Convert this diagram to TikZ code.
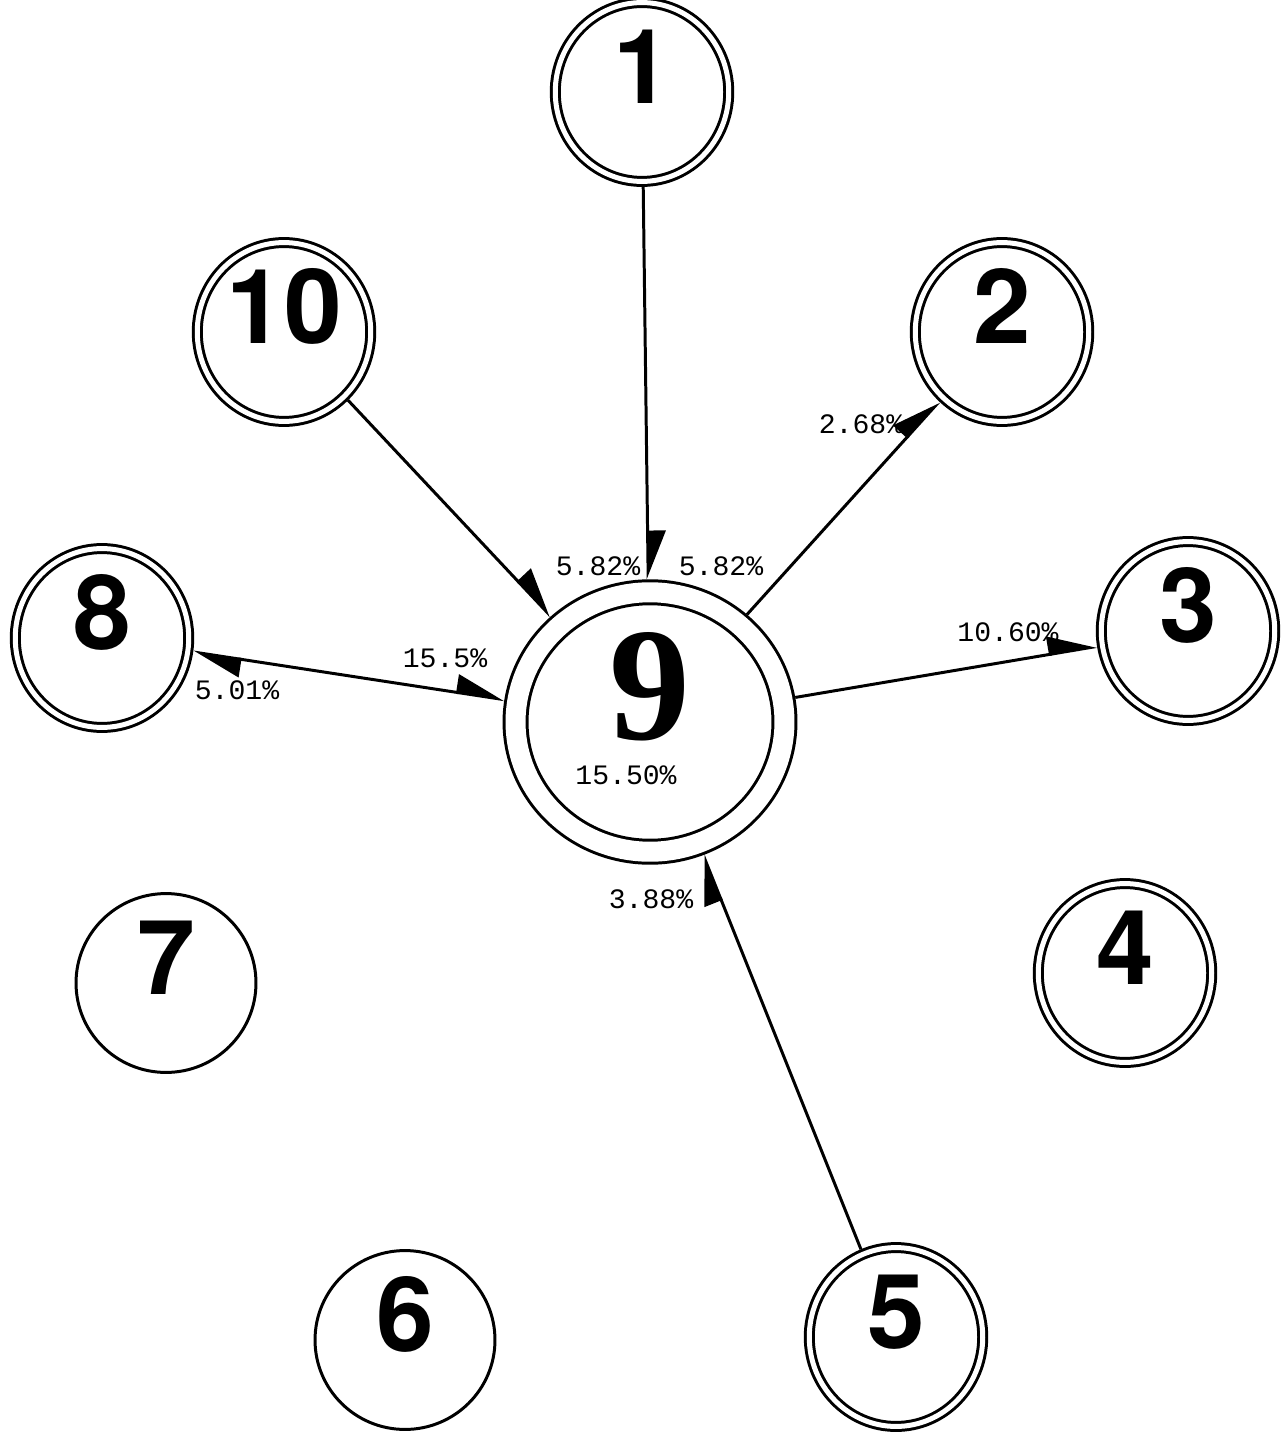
\documentclass[tikz,border=0pt]{standalone}
\usepackage{fontspec}
\usepackage{tikz}
\usetikzlibrary{arrows.meta, shapes.geometric}
\newfontfamily\numfont{TeX Gyre Heros}
\newfontfamily\ninefont{Liberation Serif}
\newfontfamily\pctfont{Liberation Mono}

\begin{document}
\begin{tikzpicture}[x=0.02cm, y=-0.02cm,
  >={Triangle[harpoon,length=0.9cm,width=0.72cm]},
  ring/.style={ellipse,draw,line width=1.7pt,inner sep=0pt,outer sep=0.85pt,
               minimum width=3.6cm,minimum height=3.36cm,
               font=\numfont\bfseries\fontsize{59}{59}\selectfont,
               text height=1.49cm,text depth=1.04cm},
  dring/.style={ring,double,double distance=0.1cm,outer sep=0.11cm,
                minimum width=3.47cm,minimum height=3.15cm},
  hub/.style={dring,double distance=0.4cm,outer sep=0.26cm,
              minimum width=5.38cm,minimum height=4.88cm,
              font=\ninefont\bfseries\fontsize{92}{92}\selectfont,
              text height=2.19cm,text depth=1.48cm},
  pct/.style={font=\pctfont\fontsize{16}{16}\selectfont,inner sep=1pt},
  lnk/.style={line width=1.7pt}]

\useasboundingbox (0,0) rectangle (1287,1432);

% stations
\node[dring] (n1)  at (642,92)   {1};
\node[dring] (n10) at (284,332)  {10};
\node[dring] (n2)  at (1002,332) {2};
\node[dring] (n8)  at (102,638)  {8};
\node[hub]   (n9)  at (650,722)  {9};
\node[dring] (n3)  at (1188,631) {3};
\node[ring]  (n7)  at (166,983)  {7};
\node[dring] (n4)  at (1125,973) {4};
\node[ring]  (n6)  at (405,1340) {6};
\node[dring] (n5)  at (896,1337) {5};

% flows into and out of 9
\draw[lnk,->]  (n1)  -- (n9);
\draw[lnk,->]  (n10) -- (n9);
\draw[lnk,->]  (n9)  -- (n2);
\draw[lnk,->]  (n9)  -- (n3);
\draw[lnk,->]  (n5)  -- (n9);
\draw[lnk,<->] (n8)  -- (n9);

% shares
\node[pct] (s1a) at (598,566)  {5.82\%};
\node[pct] (s1b) at (721,566)  {5.82\%};
\node[pct] (s9)  at (626,775)  {15.50\%};
\node[pct] (s2)  at (861,424)  {2.68\%};
\node[pct] (s8a) at (445,658)  {15.5\%};
\node[pct] (s8b) at (237,690)  {5.01\%};
\node[pct] (s3)  at (1008,632) {10.60\%};
\node[pct] (s5)  at (651,899)  {3.88\%};
\end{tikzpicture}
\end{document}
